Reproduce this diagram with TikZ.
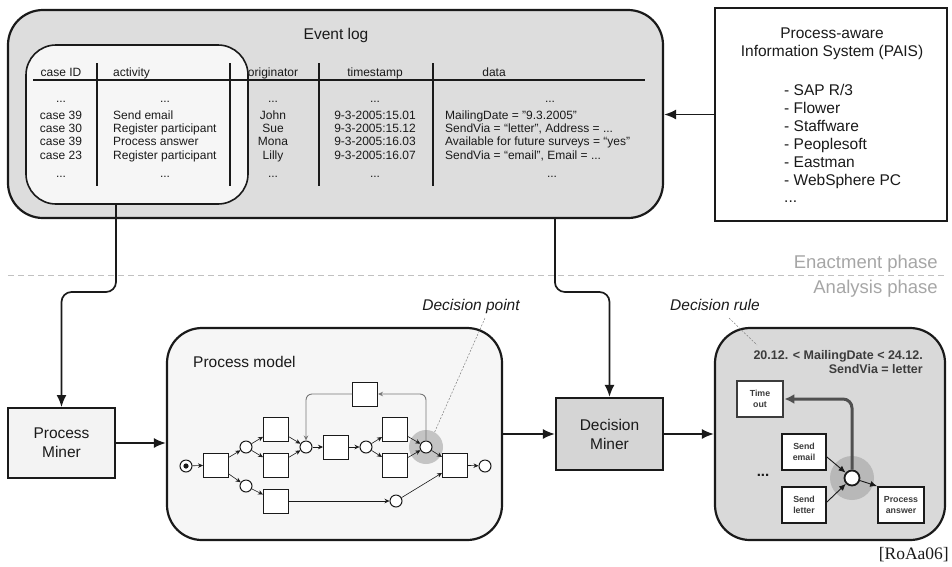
\documentclass[tikz,border=0pt]{standalone}
\usepackage{fontspec}
\setmainfont{Liberation Sans}
\newfontfamily\refserif{Liberation Serif}
\usetikzlibrary{arrows.meta,calc}
\definecolor{ink}{HTML}{1A1A1A}
\definecolor{logfill}{HTML}{DDDDDD}
\definecolor{tblfill}{HTML}{F6F6F6}
\definecolor{pmfill}{HTML}{F3F3F3}
\definecolor{modelfill}{HTML}{F6F6F6}
\definecolor{dmfill}{HTML}{D5D5D5}
\definecolor{rulefill}{HTML}{D9D9D9}
\definecolor{phasegray}{HTML}{A6A6A6}
\definecolor{halo}{HTML}{C4C4C4}
\definecolor{rulehalo}{HTML}{B8B8B8}
\definecolor{ruleink}{HTML}{3C3C3C}
\definecolor{loopgray}{HTML}{777777}
\begin{document}
\begin{tikzpicture}[x=1pt,y=-1pt,
  txt/.style={text=ink, inner sep=0},
  cell/.style={txt, font=\fontsize{12}{13}\selectfont, anchor=base},
  cellw/.style={cell, anchor=base west},
  bigfont/.style={font=\fontsize{15.5}{19}\selectfont},
  bigbox/.style={draw=ink, line width=2.2pt, rounded corners=35pt, inner sep=0},
  plainbox/.style={draw=ink, line width=2pt, inner sep=0, align=center, text=ink},
  conn/.style={draw=ink, line width=1.7pt, -{Latex[length=12pt,width=10pt]}},
  trans/.style={draw=ink, line width=1pt, fill=white, minimum width=25pt, minimum height=24pt, inner sep=0},
  place/.style={circle, draw=ink, line width=1pt, fill=white, minimum size=12pt, inner sep=0},
  parc/.style={draw=ink, line width=0.6pt, -{Stealth[length=5pt,width=4.5pt]}},
  looparc/.style={draw=loopgray, line width=0.9pt, rounded corners=6pt, -{Stealth[length=5pt,width=4.5pt]}},
  pointer/.style={draw=gray, line width=0.5pt, dash pattern=on 2pt off 1.5pt},
  rbox/.style={draw=ink, line width=1.8pt, fill=white, minimum width=44pt, minimum height=36pt, inner sep=0, align=center, text=ruleink, font=\fontsize{8.8}{11}\selectfont\bfseries},
  rarc/.style={draw=ink, line width=0.9pt, -{Latex[length=7pt,width=6pt]}}
]
\useasboundingbox (0,0) rectangle (952,566);

% ---------------- Event log ----------------
\node[bigbox, fill=logfill, minimum width=655pt, minimum height=208pt] (evlog) at (335.5,114) {};
\node[txt, font=\fontsize{15.5}{18}\selectfont] (evtitle) at (336,35) {Event log};
\node[draw=ink, line width=1.6pt, rounded corners=30pt, fill=tblfill, minimum width=222pt, minimum height=159pt, inner sep=0] (tbl) at (137,124.5) {};
\coordinate (hl) at (33,80);
\coordinate (hr) at (645,80);
\draw[ink, line width=1.1pt] (hl) -- (hr);
\foreach \x [count=\k] in {97,230,319,433} {
  \coordinate (vt\k) at (\x,63);
  \coordinate (vb\k) at (\x,186);
  \draw[ink, line width=1.1pt] (vt\k) -- (vb\k);
}
\node[cell] (hcase) at (61,76) {case ID};
\node[cellw] (hact) at (113,76) {activity};
\node[cell] (horig) at (273,76) {originator};
\node[cell] (hts) at (375,76) {timestamp};
\node[cell] (hdata) at (494,76) {data};

\node[cell] (c0) at (61,102) {...};
\node[cell] (a0) at (165,102) {...};
\node[cell] (o0) at (273,102) {...};
\node[cell] (t0) at (375,102) {...};
\node[cell] (d0) at (550,102) {...};

\node[cell] (c1) at (61,119) {case 39};
\node[cellw] (a1) at (113,119) {Send email};
\node[cell] (o1) at (273,119) {John};
\node[cell] (t1) at (375,119) {9-3-2005:15.01};
\node[cellw] (d1) at (445,119) {MailingDate = "9.3.2005"};

\node[cell] (c2) at (61,132.3) {case 30};
\node[cellw] (a2) at (113,132.3) {Register participant};
\node[cell] (o2) at (273,132.3) {Sue};
\node[cell] (t2) at (375,132.3) {9-3-2005:15.12};
\node[cellw] (d2) at (445,132.3) {SendVia = “letter”, Address = ...};

\node[cell] (c3) at (61,145.6) {case 39};
\node[cellw] (a3) at (113,145.6) {Process answer};
\node[cell] (o3) at (273,145.6) {Mona};
\node[cell] (t3) at (375,145.6) {9-3-2005:16.03};
\node[cellw] (d3) at (445,145.6) {Available for future surveys = “yes”};

\node[cell] (c4) at (61,159) {case 23};
\node[cellw] (a4) at (113,159) {Register participant};
\node[cell] (o4) at (273,159) {Lilly};
\node[cell] (t4) at (375,159) {9-3-2005:16.07};
\node[cellw] (d4) at (445,159) {SendVia = “email”, Email = ...};

\node[cell] (c5) at (61,177) {...};
\node[cell] (a5) at (165,177) {...};
\node[cell] (o5) at (273,177) {...};
\node[cell] (t5) at (375,177) {...};
\node[cell] (d5) at (552,177) {...};

% ---------------- PAIS ----------------
\node[draw=ink, line width=1.8pt, fill=white, minimum width=232pt, minimum height=213pt, inner sep=0] (pais) at (831,114.5) {};
\node[txt, bigfont, anchor=base] (pais1) at (832,38.5) {Process-aware};
\node[txt, bigfont, anchor=base] (pais2) at (832,56.5) {Information System (PAIS)};
\node[txt, bigfont, anchor=base west] (paisl1) at (784,95.5) {- SAP R/3};
\node[txt, bigfont, anchor=base west] (paisl2) at (784,113.5) {- Flower};
\node[txt, bigfont, anchor=base west] (paisl3) at (784,131.5) {- Staffware};
\node[txt, bigfont, anchor=base west] (paisl4) at (784,149.5) {- Peoplesoft};
\node[txt, bigfont, anchor=base west] (paisl5) at (784,167.5) {- Eastman};
\node[txt, bigfont, anchor=base west] (paisl6) at (784,185.5) {- WebSphere PC};
\node[txt, bigfont, anchor=base west] (paisl7) at (784,202.5) {...};
\draw[conn] (pais.west) -- (pais.west -| evlog.east);

% ---------------- phases ----------------
\coordinate (phL) at (8,275);
\coordinate (phR) at (945,275);
\draw[phasegray!70, line width=0.8pt, dash pattern=on 6pt off 4pt] (phL) -- (phR);
\node[inner sep=0, anchor=base east, text=phasegray, font=\fontsize{18.5}{20}\selectfont] (enact) at (938,268.5) {Enactment phase};
\node[inner sep=0, anchor=base east, text=phasegray, font=\fontsize{18.5}{20}\selectfont] (analysis) at (938,293.5) {Analysis phase};

% ---------------- miners ----------------
\node[plainbox, fill=pmfill, minimum width=107pt, minimum height=70pt, bigfont] (pm) at (61.5,443) {Process\\Miner};
\node[plainbox, fill=dmfill, minimum width=107pt, minimum height=72pt, bigfont, line width=2.2pt] (dm) at (609.5,434) {Decision\\Miner};

\coordinate (split) at (0,292);
\draw[conn, rounded corners=10pt] (tbl.south -| pm.east) |- (pm.north |- split) -- (pm.north);
\draw[conn, rounded corners=10pt] (evlog.south -| dm.west) |- (dm.north |- split) -- (dm.north);

% ---------------- process model ----------------
\node[bigbox, fill=modelfill, minimum width=335pt, minimum height=212pt] (model) at (334.5,434) {};
\node[txt, bigfont, anchor=base west] (modeltitle) at (193,367.5) {Process model};

\draw[conn] (pm.east) -- (pm.east -| model.west);
\draw[conn] (model.east) -- (dm.west);

\node[circle, fill=halo, minimum size=34pt, inner sep=0] (p5halo) at (426,447) {};
\node[place] (start) at (186,466) {};
\fill[ink] (start) circle (2.6pt);
\node[trans] (T1) at (216,465) {};
\node[place] (p1) at (246,447) {};
\node[place] (p2) at (246,486) {};
\node[trans] (T2) at (276,429) {};
\node[trans] (T3) at (276,465) {};
\node[trans] (T4) at (276,501) {};
\node[place] (p3) at (306,447) {};
\node[trans] (T5) at (336,447) {};
\node[place] (p4) at (366,447) {};
\node[trans] (T6) at (395,429) {};
\node[trans] (T7) at (395,465) {};
\node[place] (p5) at (426,447) {};
\node[trans] (T8) at (365,394) {};
\node[trans] (T9) at (455,465) {};
\node[place] (end) at (485,466) {};
\node[place] (p6) at (396,501) {};

\draw[parc] (start) -- (T1);
\draw[parc] (T1) -- (p1);
\draw[parc] (T1) -- (p2);
\draw[parc] (p1) -- (T2);
\draw[parc] (p1) -- (T3);
\draw[parc] (p2) -- (T4);
\draw[parc] (T2) -- (p3);
\draw[parc] (T3) -- (p3);
\draw[parc] (p3) -- (T5);
\draw[parc] (T5) -- (p4);
\draw[parc] (p4) -- (T6);
\draw[parc] (p4) -- (T7);
\draw[parc] (T6) -- (p5);
\draw[parc] (T7) -- (p5);
\draw[parc] (p5) -- (T9);
\draw[parc] (T9) -- (end);
\draw[parc] (T4) -- (p6);
\draw[parc] (p6) -- (T9);
\draw[looparc] (p5.north) |- (T8.east);
\draw[looparc] (T8.west) -| (p3.north);

\node[txt, font=\fontsize{15.5}{18}\selectfont\itshape] (dplabel) at (471,306) {Decision point};
\coordinate (dpstart) at (485,318);
\draw[pointer] (dpstart) -- (p5halo.60);

% ---------------- decision rule ----------------
\node[bigbox, fill=rulefill, minimum width=230pt, minimum height=212pt] (rule) at (830,434) {};
\draw[conn] (dm.east) -- (rule.west);
\node[txt, font=\fontsize{15.5}{18}\selectfont\itshape] (drlabel) at (715,305) {Decision rule};
\coordinate (drs) at (729,318);
\coordinate (dre) at (757,345);
\draw[pointer] (drs) -- (dre);
\node[inner sep=0, anchor=base east, text=ruleink, font=\fontsize{12.5}{14}\selectfont\bfseries] (rule1) at (923,359.5) {20.12. < MailingDate < 24.12.};
\node[inner sep=0, anchor=base east, text=ruleink, font=\fontsize{12.5}{14}\selectfont\bfseries] (rule2) at (923,373.5) {SendVia = letter};

\node[circle, fill=rulehalo, minimum size=44pt, inner sep=0] (dphalo) at (852,478) {};
\node[rbox, draw=ruleink, line width=2.8pt, minimum width=46pt] (timeout) at (760,399) {Time\\out};
\node[rbox] (semail) at (804,452) {Send\\email};
\node[rbox] (sletter) at (804,505) {Send\\letter};
\node[rbox, minimum width=46pt] (panswer) at (901,505) {Process\\answer};
\node[circle, draw=ink, line width=1.8pt, fill=white, minimum size=15pt, inner sep=0] (dp) at (852,478) {};
\node[inner sep=0, text=ink, font=\fontsize{15}{16}\selectfont\bfseries] (rdots) at (763,475) {...};

\draw[rarc] ($(semail.east)+(0,5)$) -- (dp);
\draw[rarc] ($(sletter.east)+(0,-3)$) -- (dp);
\draw[rarc] (dp) -- (panswer.north west);
\draw[draw=ruleink!90, line width=3pt, rounded corners=9pt, -{Latex[length=10pt,width=10pt]}] (dp.north) |- (timeout.east);

% ---------------- citation ----------------
\node[inner sep=0, anchor=base east, text=ink, font=\refserif\fontsize{17.5}{20}\selectfont] (cite) at (949,559) {[RoAa06]};
\end{tikzpicture}
\end{document}
